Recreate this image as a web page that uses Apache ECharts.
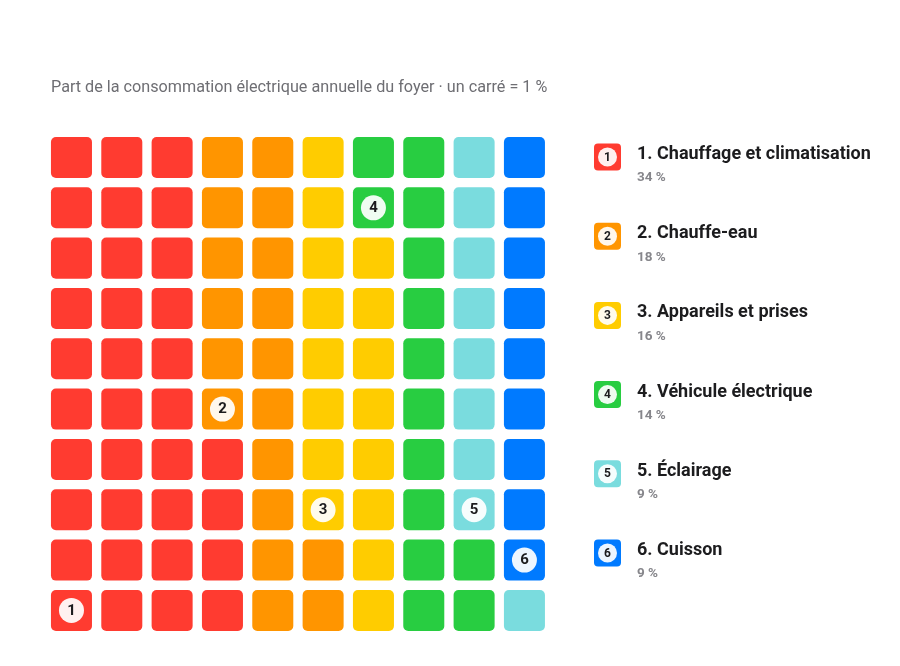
<!DOCTYPE html>
<html><head><meta charset="utf-8">
<script src="https://cdn.jsdelivr.net/npm/echarts@6/dist/echarts.min.js"></script>
<style>html,body{margin:0;padding:0;background:#fff}#c{width:900px;height:666px}</style>
</head><body><div id="c"></div>
<script>
const categories = ['Chauffage et climatisation','Chauffe-eau','Appareils et prises','Véhicule électrique','Éclairage','Cuisson'];
const values = [34, 18, 16, 14, 9, 9];
const percentLabels = ['34 %','18 %','16 %','14 %','9 %','9 %'];
const colors = ['#FF3B30','#FF9500','#FFCC00','#28CD41','#7ADCDE','#007AFF'];
const titleText = 'Part de la consommation électrique annuelle du foyer · un carré = 1 %';

// build cells: column-major, starting bottom-left, going upward
const cells = [];
let idx = 0;
values.forEach((v, ci) => {
  for (let k = 0; k < v; k++) {
    const col = Math.floor(idx / 10), row = idx % 10;
    cells.push({value: [col, row, ci, k === 0 ? 1 : 0]});
    idx++;
  }
});

const chart = echarts.init(document.getElementById('c'));
const FONT = 'Roboto, "Noto Sans", sans-serif';

const legendGraphics = [];
categories.forEach((name, i) => {
  const cy = 157 + i * 79.2;
  legendGraphics.push({
    type: 'rect', shape: {x: 594, y: cy - 13.5, width: 27, height: 27, r: 4},
    style: {fill: colors[i]}
  });
  legendGraphics.push({
    type: 'circle', shape: {cx: 607.5, cy: cy, r: 9.5},
    style: {fill: 'rgba(255,255,255,0.92)'}
  });
  legendGraphics.push({
    type: 'text', x: 607.5, y: cy + 0.5,
    style: {text: String(i + 1), fill: '#1c1c1e', font: 'bold 12px ' + FONT, align: 'center', verticalAlign: 'middle'}
  });
  legendGraphics.push({
    type: 'text', x: 637, y: cy - 2.5,
    style: {text: (i + 1) + '. ' + name, fill: '#1c1c1e', font: 'bold 18px ' + FONT, align: 'left', verticalAlign: 'middle'}
  });
  legendGraphics.push({
    type: 'text', x: 637, y: cy + 21,
    style: {text: percentLabels[i], fill: '#86868b', font: 'bold 13.5px ' + FONT, align: 'left', verticalAlign: 'middle'}
  });
});

chart.setOption({
  animation: false,
  backgroundColor: '#fff',
  title: {
    text: titleText, left: 46, top: 75,
    textStyle: {fontFamily: FONT, fontSize: 16.2, fontWeight: 'normal', color: '#6e6e73'}
  },
  grid: {left: 46.3, top: 132.3, width: 503.3, height: 503.3},
  xAxis: {type: 'value', min: -0.5, max: 9.5, show: false},
  yAxis: {type: 'value', min: -0.5, max: 9.5, show: false},
  graphic: legendGraphics,
  series: [{
    type: 'custom',
    data: cells,
    renderItem: function (params, api) {
      const col = api.value(0), row = api.value(1), ci = api.value(2), first = api.value(3);
      const c = api.coord([col, row]);
      const sz = api.size([1, 1]);
      const w = sz[0] * 0.815, h = sz[1] * 0.815;
      const children = [{
        type: 'rect',
        shape: {x: c[0] - w / 2, y: c[1] - h / 2, width: w, height: h, r: 5},
        style: {fill: colors[ci]}
      }];
      if (first) {
        children.push({type: 'circle', shape: {cx: c[0], cy: c[1], r: 12.5}, style: {fill: 'rgba(255,255,255,0.93)'}});
        children.push({type: 'text', x: c[0], y: c[1] + 0.5,
          style: {text: String(ci + 1), fill: '#1c1c1e', font: 'bold 15px ' + FONT, align: 'center', verticalAlign: 'middle'}});
      }
      return {type: 'group', children: children};
    }
  }]
});
</script></body></html>
